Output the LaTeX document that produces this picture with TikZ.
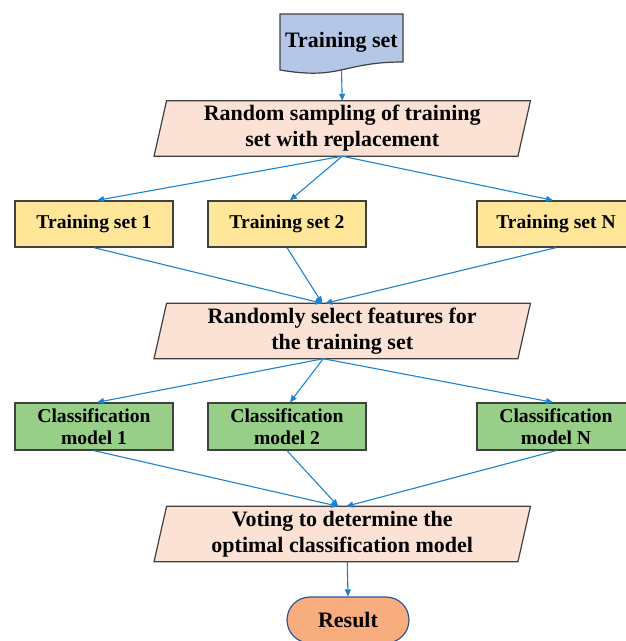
\documentclass[tikz,border=0pt]{standalone}
\usepackage{fontspec}
\setmainfont{Liberation Serif}
\usetikzlibrary{arrows.meta,backgrounds,shapes.misc}

\definecolor{docblue}{HTML}{B4C7E7}
\definecolor{peach}{HTML}{FBE2D5}
\definecolor{gold}{HTML}{FFE699}
\definecolor{leaf}{HTML}{97CF89}
\definecolor{resorange}{HTML}{F8AD7E}
\definecolor{edgegray}{HTML}{404040}
\definecolor{flowblue}{HTML}{1A82D0}
\definecolor{resedge}{HTML}{2F5597}

\tikzset{
  txt/.style={font=\bfseries\fontsize{22}{26}\selectfont, align=center, inner sep=0pt},
  slanttxt/.style={txt, minimum width=363.5pt, minimum height=55pt},
  slantfill/.style={fill=peach, draw=edgegray, line width=1.2pt, line join=miter},
  setbox/.style={draw=edgegray, line width=1.3pt, fill=gold, minimum width=158pt,
    minimum height=46pt, inner sep=0pt, align=center,
    font=\bfseries\fontsize{19.6}{22}\selectfont},
  modelbox/.style={setbox, fill=leaf, minimum height=47pt},
  resbox/.style={rounded rectangle, draw=resedge, line width=1.2pt, fill=resorange,
    minimum width=122pt, minimum height=46pt, inner sep=0pt,
    font=\bfseries\fontsize{22}{26}\selectfont},
  flow/.style={draw=flowblue, line width=1.1pt, -{Triangle[length=7pt,width=6pt]}}
}

% parallelogram outline around a text node, slanted by 12.5pt
\newcommand\slantshape[1]{%
  \path[slantfill] ([xshift=6.25pt]#1.north west) -- ([xshift=6.25pt]#1.north east)
    -- ([xshift=-6.25pt]#1.south east) -- ([xshift=-6.25pt]#1.south west) -- cycle;}

\begin{document}
\begin{tikzpicture}[x=1pt,y=-1pt]
  \useasboundingbox (0,0) rectangle (625,641);

  % input document
  \node[txt, minimum width=123pt, minimum height=56pt] (doc) at (341.5,42) {Training set};
  \coordinate (docb) at (341.5,70);

  % sampling step
  \node[slanttxt] (p1) at (342.25,128.5) {Random sampling of training\\set with replacement};

  % bootstrap training sets
  \node[setbox] (t1) at (94,224) {Training set 1};
  \node[setbox] (t2) at (287,224) {Training set 2};
  \node[setbox] (tN) at (556,224) {Training set N};

  % feature selection step
  \node[slanttxt] (p2) at (342.25,331) {Randomly select features for\\the training set};

  % classifiers
  \node[modelbox] (c1) at (94,426.5) {Classification\\model 1};
  \node[modelbox] (c2) at (287,426.5) {Classification\\model 2};
  \node[modelbox] (cN) at (556,426.5) {Classification\\model N};

  % voting step
  \node[slanttxt] (p3) at (342.25,534) {Voting to determine the\\optimal classification model};

  % output
  \node[resbox] (res) at (348,620) {Result};

  \begin{scope}[on background layer]
    \path[draw=edgegray, line width=1.2pt, fill=docblue]
      (280,14) -- (403,14) -- (403,62)
      .. controls (341.5,62) and (341.5,80.4) .. (280,70) -- cycle;
    \slantshape{p1}
    \slantshape{p2}
    \slantshape{p3}
  \end{scope}

  % connectors
  \draw[flow] (docb) -- (p1.north);
  \draw[flow] (p1.south) -- ([xshift=3pt]t1.north);
  \draw[flow] (p1.south) -- ([xshift=3pt]t2.north);
  \draw[flow] (p1.south) -- ([xshift=-3pt]tN.north);

  \draw[flow] (t1.south) -- ([xshift=-20pt]p2.north);
  \draw[flow] (t2.south) -- ([xshift=-20pt]p2.north);
  \draw[flow] (tN.south) -- ([xshift=-17pt]p2.north);

  \draw[flow] ([xshift=-19pt]p2.south) -- ([xshift=3pt]c1.north);
  \draw[flow] ([xshift=-19pt]p2.south) -- ([xshift=3pt]c2.north);
  \draw[flow] ([xshift=-19pt]p2.south) -- ([xshift=-3pt]cN.north);

  \draw[flow] (c1.south) -- ([xshift=-4pt]p3.north);
  \draw[flow] (c2.south) -- ([xshift=-4pt]p3.north);
  \draw[flow] (cN.south) -- ([xshift=4pt]p3.north);

  \draw[flow] ([xshift=5pt]p3.south) -- (res.north);
\end{tikzpicture}
\end{document}
